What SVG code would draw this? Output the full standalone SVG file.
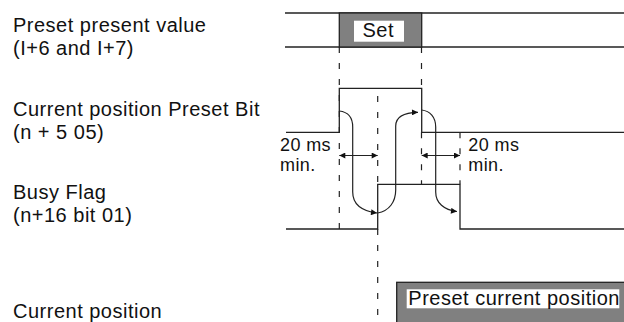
<svg xmlns="http://www.w3.org/2000/svg" width="624" height="322" viewBox="0 0 624 322">
<style>
.lbl{font-family:"Liberation Sans",Arial,sans-serif;font-size:20px;letter-spacing:0.5px;fill:#111}
.sm{font-family:"Liberation Sans",Arial,sans-serif;font-size:18px;letter-spacing:0.4px;fill:#111}
.sig{fill:none;stroke:#222;stroke-width:1.3}
.dash{fill:none;stroke:#222;stroke-width:1.2;stroke-dasharray:6 10}
.cur{fill:none;stroke:#222;stroke-width:1.2}
.box{fill:#808080;stroke:#222;stroke-width:1.3}
</style>
<defs>
<marker id="ah" viewBox="0 0 10 10" refX="10" refY="5" markerWidth="8" markerHeight="6" markerUnits="userSpaceOnUse" orient="auto-start-reverse">
<path d="M0,0 L10,5 L0,10 z" fill="#111"/>
</marker>
</defs>
<g id="labels">
<text class="lbl" x="13" y="32">Preset present value</text>
<text class="lbl" x="13" y="54.5">(I+6 and I+7)</text>
<text class="lbl" x="13" y="115.7">Current position Preset Bit</text>
<text class="lbl" x="13" y="138.5">(n + 5 05)</text>
<text class="lbl" x="13" y="199.3">Busy Flag</text>
<text class="lbl" x="13" y="222.3">(n+16 bit 01)</text>
<text class="lbl" x="13" y="317.7">Current position</text>
</g>
<g id="preset-value">
<line class="sig" x1="285" y1="13" x2="624" y2="13"/>
<line class="sig" x1="285" y1="47" x2="624" y2="47"/>
<rect class="box" x="339.3" y="13" width="82.4" height="34"/>
<rect x="354" y="20.7" width="50" height="21" fill="#fff"/>
<text class="lbl" x="362.5" y="36.7">Set</text>
</g>
<g id="preset-bit">
<polyline class="sig" points="286,132.3 339.3,132.3 339.3,88.3 421.7,88.3 421.7,132.3 624,132.3"/>
</g>
<g id="busy-flag">
<polyline class="sig" points="286,229 377.7,229 377.7,184.3 460,184.3 460,229 624,229"/>
</g>
<g id="current-position">
<rect class="box" x="396.7" y="282.3" width="240" height="50"/>
<rect x="406.7" y="289.3" width="212.6" height="19" fill="#fff"/>
<text class="lbl" x="408.3" y="305">Preset current position</text>
</g>
<g id="timing-labels">
<text class="sm" x="280" y="150.7">20 ms</text>
<text class="sm" x="280" y="170.7">min.</text>
<text class="sm" x="468.3" y="150.7">20 ms</text>
<text class="sm" x="468.3" y="170.7">min.</text>
</g>
<g id="connectors">
<line class="dash" x1="339.3" y1="47" x2="339.3" y2="229"/>
<line class="dash" x1="377.7" y1="96" x2="377.7" y2="184.3"/>
<line class="dash" x1="377.7" y1="229" x2="377.7" y2="322"/>
<line class="dash" x1="421.5" y1="47" x2="421.5" y2="88.3"/>
<line class="dash" x1="421.5" y1="132.3" x2="421.5" y2="184.3"/>
<line class="dash" x1="460" y1="132.3" x2="460" y2="184.3"/>
<line class="cur" x1="339.3" y1="155.5" x2="377.7" y2="155.5" marker-start="url(#ah)" marker-end="url(#ah)"/>
<line class="cur" x1="421.7" y1="155.5" x2="460" y2="155.5" marker-start="url(#ah)" marker-end="url(#ah)"/>
<path class="cur" d="M339.3,111 C348,112 352.7,118 352.7,127 L352.7,192 C352.7,204 362,211 377,213" marker-end="url(#ah)"/>
<path class="cur" d="M377.7,213 C389,211 395.7,202 395.7,190 L395.7,126 C395.7,117 403,112.5 418,112.3" marker-end="url(#ah)"/>
<path class="cur" d="M421.7,110 C430,111 435.7,117 435.7,127 L435.7,192 C435.7,203 444,210 457,211.5" marker-end="url(#ah)"/>
</g>
</svg>
